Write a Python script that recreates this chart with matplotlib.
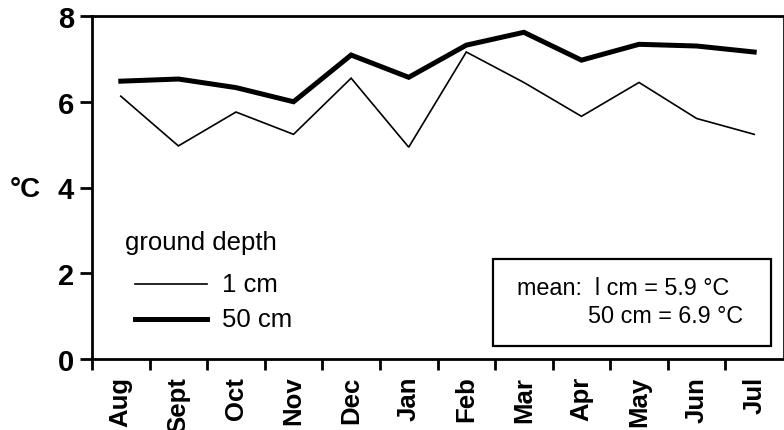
import matplotlib
matplotlib.use('Agg')
from matplotlib import pyplot as plt
from matplotlib.patches import Rectangle
from matplotlib.lines import Line2D
import numpy as np

months = ['Aug', 'Sept', 'Oct', 'Nov', 'Dec', 'Jan', 'Feb', 'Mar', 'Apr', 'May', 'Jun', 'Jul']
depth_1cm = [6.13, 4.97, 5.76, 5.24, 6.55, 4.94, 7.16, 6.45, 5.66, 6.45, 5.61, 5.24]
depth_50cm = [6.48, 6.53, 6.33, 6.0, 7.09, 6.57, 7.32, 7.62, 6.97, 7.34, 7.30, 7.16]
yticks = [0, 2, 4, 6, 8]

plt.rcParams['font.family'] = ['Liberation Sans', 'DejaVu Sans']

fig = plt.figure(figsize=(7.84, 4.31), dpi=100)
ax = fig.add_axes([92 / 784, 1 - 360 / 431, 691 / 784, 343 / 431])

x = np.arange(len(months)) + 0.5
ax.plot(x, depth_1cm, color='black', lw=1.2, solid_joinstyle='miter')
ax.plot(x, depth_50cm, color='black', lw=3.6, solid_joinstyle='miter')

ax.set_xlim(0, 12)
ax.set_ylim(0, 8)
ax.set_yticks(yticks)
ax.set_yticklabels([str(v) for v in yticks], fontsize=21, fontweight='bold')
ax.set_xticks(np.arange(12))
ax.set_xticklabels([])
ax.set_xticks(x, minor=True)
ax.set_xticklabels(months, minor=True, rotation=90, fontsize=18.5, fontweight='bold')
ax.tick_params(axis='x', which='minor', length=0, pad=12)
ax.tick_params(axis='x', which='major', length=8, width=2, direction='out')
ax.tick_params(axis='y', length=9, width=2, direction='out', pad=4)
for s in ax.spines.values():
    s.set_linewidth(2)
ax.spines['right'].set_linewidth(0.6)

fig.text(10 / 784, 1 - 190 / 431, '°C', fontsize=20, fontweight='bold', va='center')

# legend drawn by hand
ax.text(33 / 691, (360 - 243) / 343, 'ground depth', transform=ax.transAxes,
        fontsize=18.5, va='center', ha='left')
for yy, lw, lab in [(285, 1.2, '1 cm'), (320, 3.6, '50 cm')]:
    ya = (360 - yy) / 343
    ax.add_line(Line2D([43 / 691, 115 / 691], [ya, ya], transform=ax.transAxes,
                       color='black', lw=lw))
    ax.text(130 / 691, ya, lab, transform=ax.transAxes, fontsize=18.5,
            va='center', ha='left')

# mean box
ax.add_patch(Rectangle(((493 - 92) / 691, (360 - 347) / 343), 278 / 691, 87 / 343,
                       transform=ax.transAxes, fill=False, lw=1.6, color='black'))
ax.text((517 - 92) / 691, (360 - 289) / 343, 'mean:  l cm = 5.9 °C', transform=ax.transAxes,
        fontsize=16.8, va='center', ha='left')
ax.text((588 - 92) / 691, (360 - 317) / 343, '50 cm = 6.9 °C', transform=ax.transAxes,
        fontsize=16.8, va='center', ha='left')

plt.savefig('out.png', dpi=100)
